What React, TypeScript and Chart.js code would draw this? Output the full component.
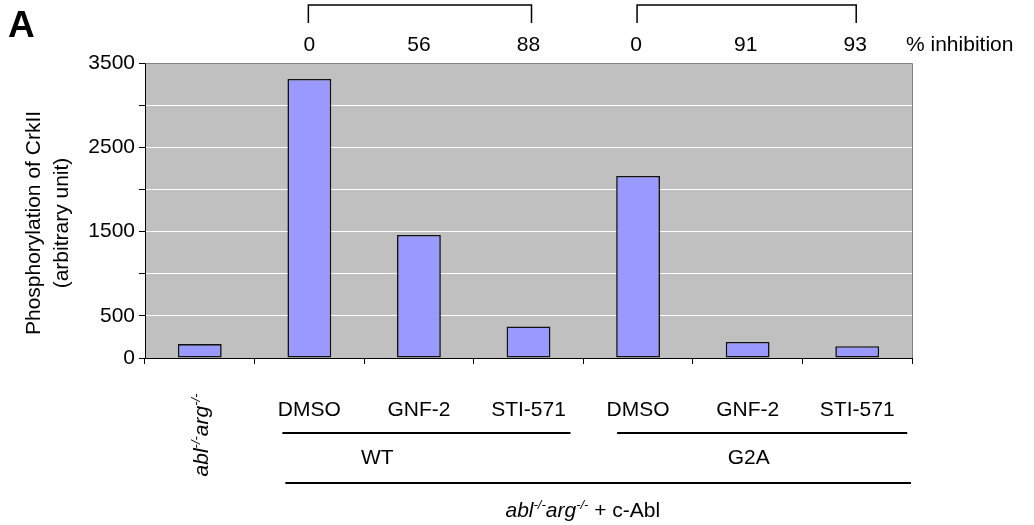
import React, { useEffect, useRef } from "react";
import { Chart, registerables } from "chart.js";

Chart.register(...registerables);

// ---- data ----
const categories = [
  "abl-/-arg-/-",
  "WT DMSO",
  "WT GNF-2",
  "WT STI-571",
  "G2A DMSO",
  "G2A GNF-2",
  "G2A STI-571",
];
const values = [165, 3310, 1460, 375, 2160, 190, 140];
const inhibitionWT = ["0", "56", "88"];
const inhibitionG2A = ["0", "91", "93"];
const treatments = ["DMSO", "GNF-2", "STI-571"];
const groups = ["WT", "G2A"];
const yTickLabels = [0, 500, 1500, 2500, 3500];
const yTitle = ["Phosphorylation of CrkII", "(arbitrary unit)"];

const FAMILY = "'Liberation Sans', Arial, Helvetica, sans-serif";
const FS = 21;

type Seg = { t: string; it?: boolean; sup?: boolean };

function segFont(s: Seg, size: number) {
  const sz = s.sup ? Math.round(size * 0.6) : size;
  return `${s.it ? "italic " : ""}${sz}px ${FAMILY}`;
}

function richWidth(ctx: CanvasRenderingContext2D, segs: Seg[], size: number) {
  let w = 0;
  for (const s of segs) {
    ctx.font = segFont(s, size);
    w += ctx.measureText(s.t).width;
  }
  return w;
}

function drawRich(
  ctx: CanvasRenderingContext2D,
  segs: Seg[],
  x: number,
  y: number,
  size: number,
  align: "left" | "center"
) {
  let cx = align === "center" ? x - richWidth(ctx, segs, size) / 2 : x;
  ctx.textAlign = "left";
  ctx.textBaseline = "alphabetic";
  for (const s of segs) {
    ctx.font = segFont(s, size);
    ctx.fillText(s.t, cx, s.sup ? y - size * 0.38 : y);
    cx += ctx.measureText(s.t).width;
  }
}

const ablArg: Seg[] = [
  { t: "abl", it: true },
  { t: "-/-", it: true, sup: true },
  { t: "arg", it: true },
  { t: "-/-", it: true, sup: true },
];

function line(ctx: CanvasRenderingContext2D, pts: number[][], w = 1.5) {
  ctx.beginPath();
  ctx.lineWidth = w;
  ctx.strokeStyle = "#000";
  pts.forEach((p, i) => (i ? ctx.lineTo(p[0], p[1]) : ctx.moveTo(p[0], p[1])));
  ctx.stroke();
}

const decor = {
  id: "decor",
  beforeDraw(chart: any) {
    const { ctx, chartArea: a } = chart;
    ctx.save();
    ctx.fillStyle = "#C0C0C0";
    ctx.fillRect(a.left, a.top, a.right - a.left, a.bottom - a.top);
    ctx.restore();
  },
  afterDraw(chart: any) {
    const { ctx, chartArea: a } = chart;
    const xs = chart.scales.x;
    const px = (i: number) => xs.getPixelForValue(i);
    ctx.save();

    // plot frame (top / right, gray)
    ctx.beginPath();
    ctx.strokeStyle = "#808080";
    ctx.lineWidth = 1;
    ctx.moveTo(Math.round(a.left) + 0.5, Math.round(a.top) + 0.5);
    ctx.lineTo(Math.round(a.right) + 0.5, Math.round(a.top) + 0.5);
    ctx.lineTo(Math.round(a.right) + 0.5, Math.round(a.bottom));
    ctx.stroke();

    ctx.fillStyle = "#000";
    // panel letter
    ctx.font = `bold 37px ${FAMILY}`;
    ctx.textAlign = "left";
    ctx.textBaseline = "alphabetic";
    ctx.fillText("A", 8, 37);

    // brackets
    line(ctx, [[px(1) - 1, 23], [px(1) - 1, 5], [px(3) + 3, 5], [px(3) + 3, 23]]);
    line(ctx, [[px(4) - 1, 23], [px(4) - 1, 5], [px(6) - 1, 5], [px(6) - 1, 23]]);

    // % inhibition numbers
    ctx.font = `${FS}px ${FAMILY}`;
    ctx.textAlign = "center";
    ctx.textBaseline = "middle";
    inhibitionWT.forEach((t, i) => ctx.fillText(t, px(1 + i), 45));
    inhibitionG2A.forEach((t, i) => ctx.fillText(t, px(4 + i) - 2, 45));
    ctx.textAlign = "left";
    ctx.fillText("% inhibition", a.right - 6, 45);

    // y-axis title
    ctx.save();
    ctx.translate(0, 223);
    ctx.rotate(-Math.PI / 2);
    ctx.textAlign = "center";
    ctx.textBaseline = "middle";
    ctx.font = `${FS}px ${FAMILY}`;
    ctx.fillText(yTitle[0], 0, 34);
    ctx.fillText(yTitle[1], 0, 62);
    ctx.restore();

    // rotated first category label
    ctx.save();
    ctx.translate(px(0) + 1, 435);
    ctx.rotate(-Math.PI / 2);
    drawRich(ctx, ablArg, 0, 7, FS, "center");
    ctx.restore();

    // treatments row
    ctx.font = `${FS}px ${FAMILY}`;
    ctx.textAlign = "center";
    ctx.textBaseline = "middle";
    treatments.forEach((t, i) => {
      ctx.fillText(t, px(1 + i), 410);
      ctx.fillText(t, px(4 + i), 410);
    });

    // group underlines
    line(ctx, [[px(1) - 27, 433], [px(3) + 42, 433]], 2);
    line(ctx, [[px(4) - 21, 433], [px(6) + 50, 433]], 2);

    // group labels
    ctx.fillText(groups[0], px(1) + 68, 458);
    ctx.fillText(groups[1], px(5) + 1, 458);

    // overall line
    line(ctx, [[px(1) - 24, 483], [a.right - 1, 483]], 2);

    // overall label
    ctx.fillStyle = "#000";
    drawRich(ctx, [...ablArg, { t: " + c-Abl" }], px(3) - 23, 517, FS, "left");

    ctx.restore();
  },
};

export default function App() {
  const ref = useRef<HTMLCanvasElement>(null);

  useEffect(() => {
    const chart = new Chart(ref.current as HTMLCanvasElement, {
      type: "bar",
      data: {
        labels: categories,
        datasets: [
          {
            data: values,
            backgroundColor: "#9999FF",
            borderColor: "#111111",
            borderWidth: 1.6,
            borderSkipped: false,
            barPercentage: 0.4,
            categoryPercentage: 1,
          },
        ],
      },
      options: {
        responsive: false,
        devicePixelRatio: 1,
        animation: false,
        events: [],
        layout: { padding: { left: 0, top: 63, right: 122, bottom: 0 } },
        plugins: {
          legend: { display: false },
          tooltip: { enabled: false },
        },
        scales: {
          x: {
            type: "category",
            offset: true,
            grid: {
              offset: true,
              drawOnChartArea: false,
              drawTicks: true,
              tickLength: 6,
              tickColor: "#000",
              color: "#000",
            },
            border: { display: true, color: "#000", width: 1 },
            ticks: { display: false },
            afterFit: (s: any) => {
              s.height = 167;
            },
          },
          y: {
            min: 0,
            max: 3500,
            ticks: {
              stepSize: 500,
              autoSkip: false,
              padding: 4,
              color: "#000",
              font: { family: FAMILY, size: FS },
              callback: (v: any) => (yTickLabels.includes(Number(v)) ? String(v) : ""),
            },
            grid: {
              color: (c: any) => {
                const v = c.tick ? c.tick.value : -1;
                if (v === 0) return "rgba(0,0,0,0)";
                if (v === 3500) return "#808080";
                return "#FFFFFF";
              },
              tickColor: "#000",
              tickLength: 6,
              lineWidth: 1,
            },
            border: { display: true, color: "#000", width: 1 },
            afterFit: (s: any) => {
              s.width = 145;
            },
          },
        },
      },
      plugins: [decor],
    } as any);
    return () => chart.destroy();
  }, []);

  return (
    <div style={{ position: "absolute", left: 0, top: 0, width: 1034, height: 525, background: "#fff" }}>
      <canvas ref={ref} width={1034} height={525} style={{ display: "block", width: 1034, height: 525 }} />
    </div>
  );
}
